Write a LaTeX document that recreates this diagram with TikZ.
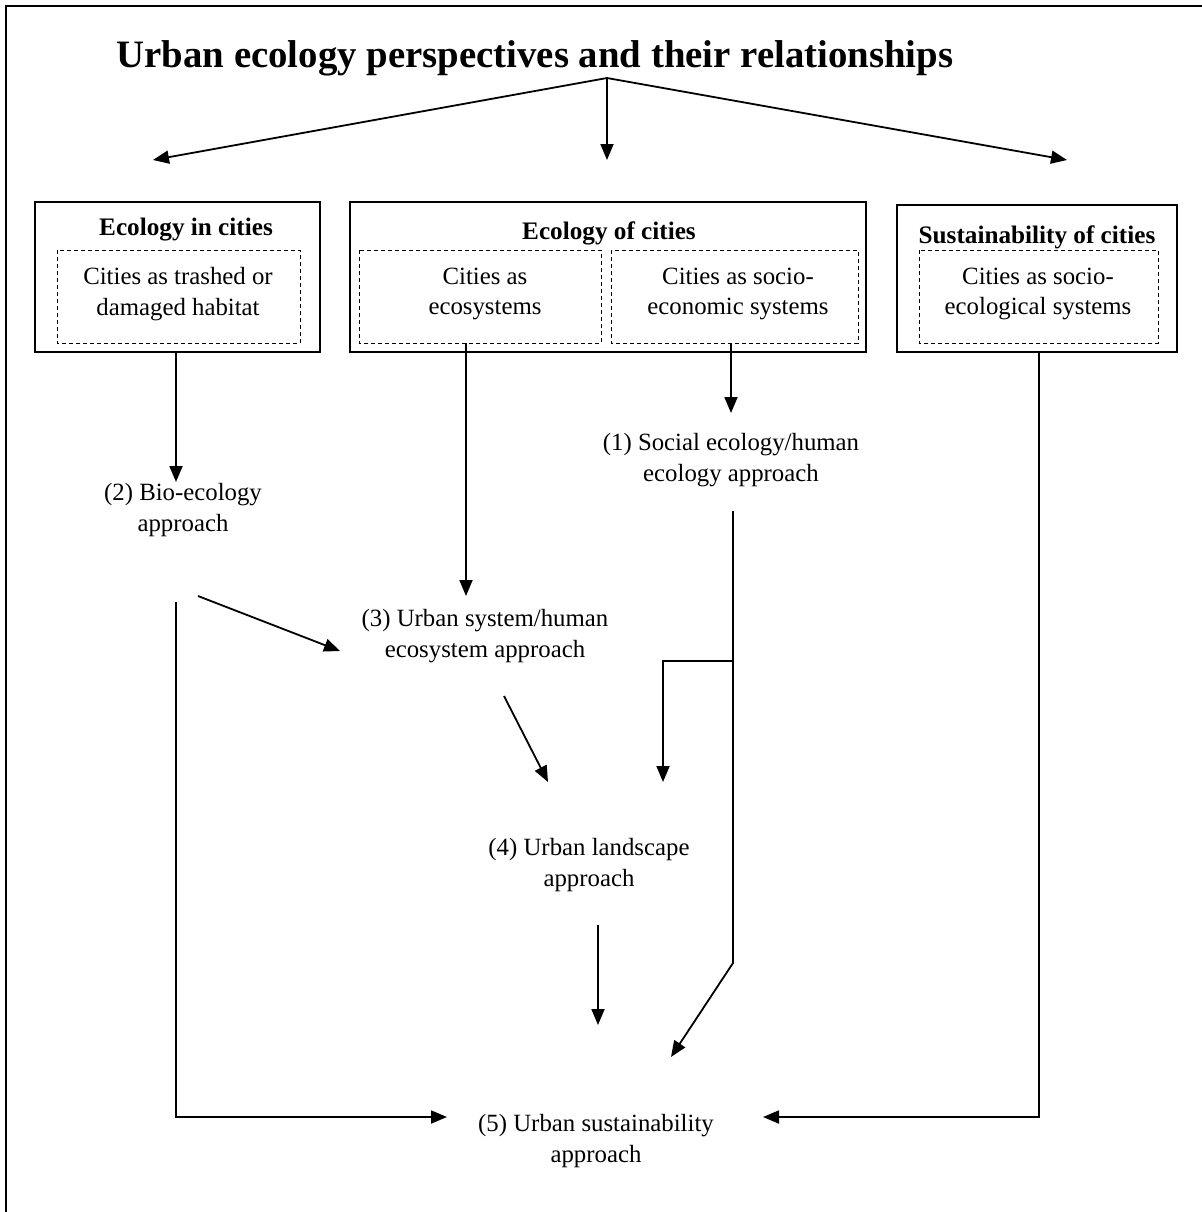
\documentclass[tikz,border=0pt]{standalone}
\usepackage{fontspec}
\setmainfont{Liberation Serif}
\usetikzlibrary{arrows.meta}
\begin{document}
\begin{tikzpicture}[x=0.5pt,y=-0.5pt,
  txt/.style={align=center,font=\fontsize{12.4}{15.3}\selectfont,inner sep=0pt},
  hdr/.style={font=\fontsize{12.6}{15}\selectfont\bfseries,inner sep=0pt},
  outerbox/.style={draw,line width=1.25pt},
  dbox/.style={draw,dashed,line width=0.4pt,dash pattern=on 2pt off 1.5pt},
  arr/.style={line width=0.9pt,-{Triangle[length=8pt,width=6.5pt]}},
  ln/.style={line width=0.9pt}]
\useasboundingbox (0,0) rectangle (1202,1212);
% frame
\draw[line width=1.2pt] (6,1212) -- (6,6) -- (1202,6);
% title
\node[font=\fontsize{19.4}{22}\selectfont\bfseries,inner sep=0pt] (title) at (535,58) {Urban ecology perspectives and their relationships};
\coordinate (t0) at (607,78);
\coordinate (tL) at (153,160);
\coordinate (tM) at (607,160);
\coordinate (tR) at (1067,160);
\draw[arr] (t0) -- (tL);
\draw[arr] (t0) -- (tM);
\draw[arr] (t0) -- (tR);
% boxes
\draw[outerbox] (35,202) rectangle (320,352);
\node[hdr] (h1) at (186,230) {Ecology in cities};
\draw[dbox] (57,250) rectangle (300,343);
\node[txt] (c1) at (178,294) {Cities as trashed or\\damaged habitat};
\draw[outerbox] (350,202) rectangle (866,352);
\node[hdr] (h2) at (609,233) {Ecology of cities};
\draw[dbox] (359,250) rectangle (601,343);
\node[txt] (c2) at (485,294) {Cities as\\ecosystems};
\draw[dbox] (611,250) rectangle (858,343);
\node[txt] (c3) at (738,294) {Cities as socio-\\economic systems};
\draw[outerbox] (897,205) rectangle (1177,352);
\node[hdr] (h3) at (1037,237) {Sustainability of cities};
\draw[dbox] (919,250) rectangle (1158,343);
\node[txt] (c4) at (1038,294) {Cities as socio-\\ecological systems};
% approaches
\node[txt] (n1) at (731,460) {(1) Social ecology/human\\ecology approach};
\node[txt] (n2) at (183,510) {(2) Bio-ecology\\approach};
\node[txt] (n3) at (485,636) {(3) Urban system/human\\ecosystem approach};
\node[txt] (n4) at (589,865) {(4) Urban landscape\\approach};
\node[txt] (n5) at (596,1141) {(5) Urban sustainability\\approach};
% connector coordinates
\coordinate (a1s) at (176,352); \coordinate (a1e) at (176,482);
\coordinate (a2s) at (466,343); \coordinate (a2e) at (466,596);
\coordinate (a3s) at (731,343); \coordinate (a3e) at (731,413);
\coordinate (a4s) at (176,602); \coordinate (a4c) at (176,1117); \coordinate (a4e) at (447,1117);
\coordinate (a5s) at (1039,352); \coordinate (a5c) at (1039,1117); \coordinate (a5e) at (763,1117);
\coordinate (a6s) at (198,596); \coordinate (a6e) at (340,651);
\coordinate (a7s) at (504,696); \coordinate (a7e) at (548,782);
\coordinate (a8s) at (733,511); \coordinate (a8c) at (733,963); \coordinate (a8e) at (671,1057);
\coordinate (a8b) at (733,661); \coordinate (a8d) at (663,661); \coordinate (a8f) at (663,782);
\coordinate (a9s) at (598,925); \coordinate (a9e) at (598,1025);
\draw[arr] (a1s) -- (a1e);
\draw[arr] (a2s) -- (a2e);
\draw[arr] (a3s) -- (a3e);
\draw[arr] (a4s) -- (a4c) -- (a4e);
\draw[arr] (a5s) -- (a5c) -- (a5e);
\draw[arr] (a6s) -- (a6e);
\draw[arr] (a7s) -- (a7e);
\draw[arr] (a8s) -- (a8c) -- (a8e);
\draw[arr] (a8b) -- (a8d) -- (a8f);
\draw[arr] (a9s) -- (a9e);
\end{tikzpicture}
\end{document}
